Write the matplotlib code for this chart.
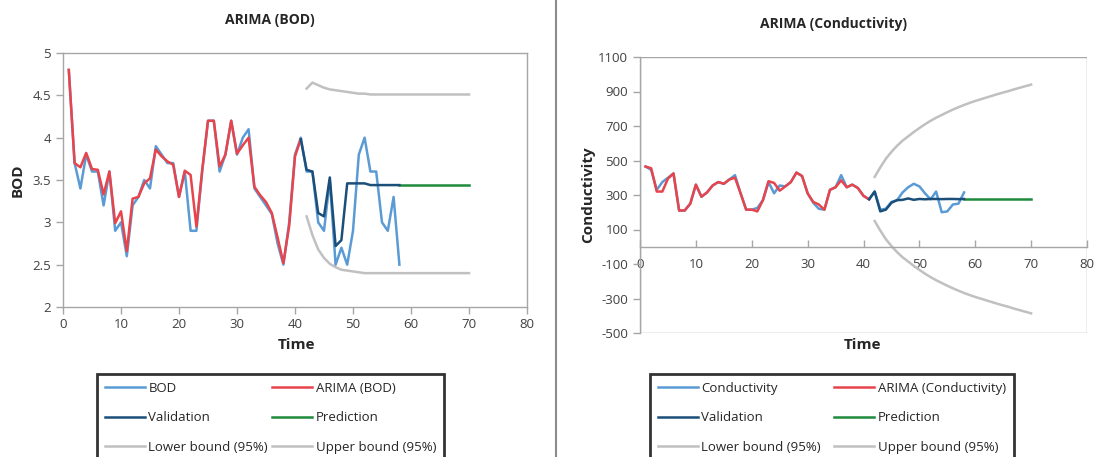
import numpy as np
import matplotlib.pyplot as plt
from matplotlib.lines import Line2D
from matplotlib.patches import Rectangle

plt.rcParams['font.family'] = ['Open Sans', 'DejaVu Sans']
plt.rcParams['axes.unicode_minus'] = False

# BOD series
bod_t = np.arange(1, 59)
bod_obs = [4.8, 3.7, 3.4, 3.8, 3.6, 3.6, 3.2, 3.6, 2.9, 3.0,
           2.6, 3.2, 3.3, 3.5, 3.4, 3.9, 3.8, 3.7, 3.7, 3.3,
           3.6, 2.9, 2.9, 3.6, 4.2, 4.2, 3.6, 3.8, 4.2, 3.8,
           4.0, 4.1, 3.4, 3.3, 3.2, 3.1, 2.75, 2.5, 3.0, 3.8,
           4.0, 3.6, 3.6, 3.0, 2.9, 3.5, 2.5, 2.7, 2.5, 2.9,
           3.8, 4.0, 3.6, 3.6, 3.0, 2.9, 3.3, 2.5]
bod_fit_t = np.arange(1, 42)
bod_fit = [4.8, 3.7, 3.65, 3.82, 3.63, 3.62, 3.33, 3.6, 2.99, 3.13,
           2.66, 3.28, 3.3, 3.46, 3.52, 3.86, 3.78, 3.72, 3.68, 3.3,
           3.61, 3.56, 2.95, 3.62, 4.2, 4.2, 3.66, 3.8, 4.2, 3.81,
           3.91, 4.0, 3.42, 3.32, 3.24, 3.11, 2.82, 2.52, 2.96, 3.78,
           3.98]
bod_val_t = np.arange(41, 59)
bod_val = [3.98, 3.62, 3.6, 3.11, 3.07, 3.53, 2.72, 2.79, 3.46, 3.46,
           3.46, 3.46, 3.44, 3.44, 3.44, 3.44, 3.44, 3.44]
bod_pred_t = np.arange(58, 71)
bod_pred = [3.44] * 13
bod_bound_t = np.arange(42, 71)
bod_upper = [4.58, 4.65, 4.62, 4.59, 4.57, 4.56, 4.55, 4.54, 4.53, 4.52,
             4.52, 4.51, 4.51, 4.51, 4.51, 4.51, 4.51, 4.51, 4.51, 4.51,
             4.51, 4.51, 4.51, 4.51, 4.51, 4.51, 4.51, 4.51, 4.51]
bod_lower = [3.07, 2.85, 2.68, 2.58, 2.51, 2.47, 2.44, 2.43, 2.42, 2.41,
             2.40, 2.40, 2.40, 2.40, 2.40, 2.40, 2.40, 2.40, 2.40, 2.40,
             2.40, 2.40, 2.40, 2.40, 2.40, 2.40, 2.40, 2.40, 2.40]

# Conductivity series
cond_t = np.arange(1, 59)
cond_obs = [465, 445, 330, 375, 400, 425, 210, 210, 250, 360,
            290, 315, 355, 375, 365, 390, 415, 310, 215, 215,
            225, 270, 375, 310, 355, 350, 375, 430, 410, 310,
            255, 220, 215, 330, 345, 415, 345, 360, 340, 295,
            275, 320, 215, 220, 260, 270, 315, 345, 365, 350,
            310, 275, 320, 200, 205, 245, 250, 315]
cond_fit_t = np.arange(1, 42)
cond_fit = [465, 455, 320, 320, 395, 425, 210, 210, 250, 360,
            290, 315, 355, 375, 365, 390, 400, 310, 215, 215,
            205, 270, 380, 370, 325, 350, 375, 430, 410, 310,
            260, 245, 215, 330, 345, 385, 345, 360, 340, 295,
            275]
cond_val_t = np.arange(41, 59)
cond_val = [275, 320, 205, 215, 255, 270, 272, 280, 272, 277,
            275, 277, 277, 276, 277, 277, 276, 277]
cond_pred_t = np.arange(58, 71)
cond_pred = [277] * 13
cond_bound_t = np.arange(42, 71)
cond_upper = [405, 460, 510, 550, 585, 615, 640, 665, 688, 710,
              730, 748, 764, 780, 795, 809, 822, 834, 845, 855,
              865, 875, 885, 894, 903, 913, 922, 931, 940]
cond_lower = [149, 94, 44, 4, -31, -61, -86, -111, -134, -156,
              -176, -194, -210, -226, -241, -255, -268, -280, -291, -301,
              -311, -321, -331, -340, -349, -359, -368, -377, -386]

C_OBS = "#5b9bd5"
C_FIT = "#e8444c"
C_VAL = "#1b4f7a"
C_PRED = "#1e8a3c"
C_BND = "#c0c0c0"
C_AX = "#a6a6a6"
C_TXT = "#404040"
LW = 1.8

fig = plt.figure(figsize=(10.94, 4.57), dpi=100)
W, H = 1094, 457


def px_axes(x0, y0, x1, y1):
    return fig.add_axes([x0 / W, 1 - y1 / H, (x1 - x0) / W, (y1 - y0) / H])


def draw_series(ax, obs_t, obs, fit_t, fit, val_t, val, pred_t, pred, b_t, lo, hi):
    ax.plot(b_t, lo, color=C_BND, lw=LW)
    ax.plot(b_t, hi, color=C_BND, lw=LW)
    ax.plot(obs_t, obs, color=C_OBS, lw=LW)
    ax.plot(fit_t, fit, color=C_FIT, lw=LW)
    ax.plot(pred_t, pred, color=C_PRED, lw=LW)
    ax.plot(val_t, val, color=C_VAL, lw=LW)


def style_axes(ax):
    for s in ax.spines.values():
        s.set_color(C_AX)
        s.set_linewidth(1.0)
    ax.tick_params(colors=C_AX, labelcolor=C_TXT, labelsize=9.5, length=5, width=1)


# Left panel: BOD
ax1 = px_axes(63, 53, 527, 307)
draw_series(ax1, bod_t, bod_obs, bod_fit_t, bod_fit, bod_val_t, bod_val,
            bod_pred_t, bod_pred, bod_bound_t, bod_lower, bod_upper)
ax1.set_xlim(0, 80)
ax1.set_ylim(2, 5)
ax1.set_xticks(np.arange(0, 81, 10))
ax1.set_yticks(np.arange(2, 5.01, 0.5))
ax1.set_yticklabels(["%g" % v for v in np.arange(2, 5.01, 0.5)])
style_axes(ax1)
ax1.tick_params(axis="x", pad=3)

# Right panel: Conductivity
ax2 = px_axes(640, 57, 1087, 333)
draw_series(ax2, cond_t, cond_obs, cond_fit_t, cond_fit, cond_val_t, cond_val,
            cond_pred_t, cond_pred, cond_bound_t, cond_lower, cond_upper)
ax2.set_xlim(0, 80)
ax2.set_ylim(-500, 1100)
ax2.set_xticks(np.arange(0, 81, 10))
ax2.set_yticks(np.arange(-500, 1101, 200))
style_axes(ax2)
ax2.spines["bottom"].set_position(("data", 0))
ax2.spines["top"].set_visible(False)
ax2.spines["right"].set_visible(False)
ax2.add_patch(Rectangle((0, 0), 1, 1, transform=ax2.transAxes, fill=False,
                        edgecolor=C_AX, lw=1.0, zorder=0.5))
ax2.tick_params(axis="x", direction="in", pad=8)

# titles and axis labels
fig.text(270 / W, 1 - 20 / H, "ARIMA (BOD)", ha="center", va="center",
         fontsize=10, fontweight="bold", color="#262626")
fig.text(834 / W, 1 - 24 / H, "ARIMA (Conductivity)", ha="center", va="center",
         fontsize=10, fontweight="bold", color="#262626")
fig.text(297 / W, 1 - 345 / H, "Time", ha="center", va="center",
         fontsize=11, fontweight="bold", color="#262626")
fig.text(862 / W, 1 - 345 / H, "Time", ha="center", va="center",
         fontsize=11, fontweight="bold", color="#262626")
fig.text(18 / W, 1 - 180 / H, "BOD", ha="center", va="center", rotation=90,
         fontsize=11, fontweight="bold", color="#262626")
fig.text(588 / W, 1 - 195 / H, "Conductivity", ha="center", va="center", rotation=90,
         fontsize=11, fontweight="bold", color="#262626")

# panel separator
fig.add_artist(Line2D([556 / W, 556 / W], [0, 1], color="#8c8c8c", lw=1.5))


def add_legend(name, x0, colspace):
    handles = [Line2D([], [], color=C_OBS, lw=LW),
               Line2D([], [], color=C_VAL, lw=LW),
               Line2D([], [], color=C_BND, lw=LW),
               Line2D([], [], color=C_FIT, lw=LW),
               Line2D([], [], color=C_PRED, lw=LW),
               Line2D([], [], color=C_BND, lw=LW)]
    labels = [name, "Validation", "Lower bound (95%)",
              "ARIMA (%s)" % name, "Prediction", "Upper bound (95%)"]
    leg = fig.legend(handles, labels, ncol=2, loc="upper left",
                     bbox_to_anchor=(x0 / W, 1 - 374 / H), fontsize=9.5,
                     frameon=True, fancybox=False, handlelength=3.0,
                     handletextpad=0.3, columnspacing=colspace,
                     labelspacing=1.25, borderpad=0.6, borderaxespad=0)
    fr = leg.get_frame()
    fr.set_edgecolor("black")
    fr.set_linewidth(2)
    for t in leg.get_texts():
        t.set_color("#262626")


add_legend("BOD", 97, 0.3)
add_legend("Conductivity", 650, 1.0)

fig.savefig("out.png", dpi=100)
